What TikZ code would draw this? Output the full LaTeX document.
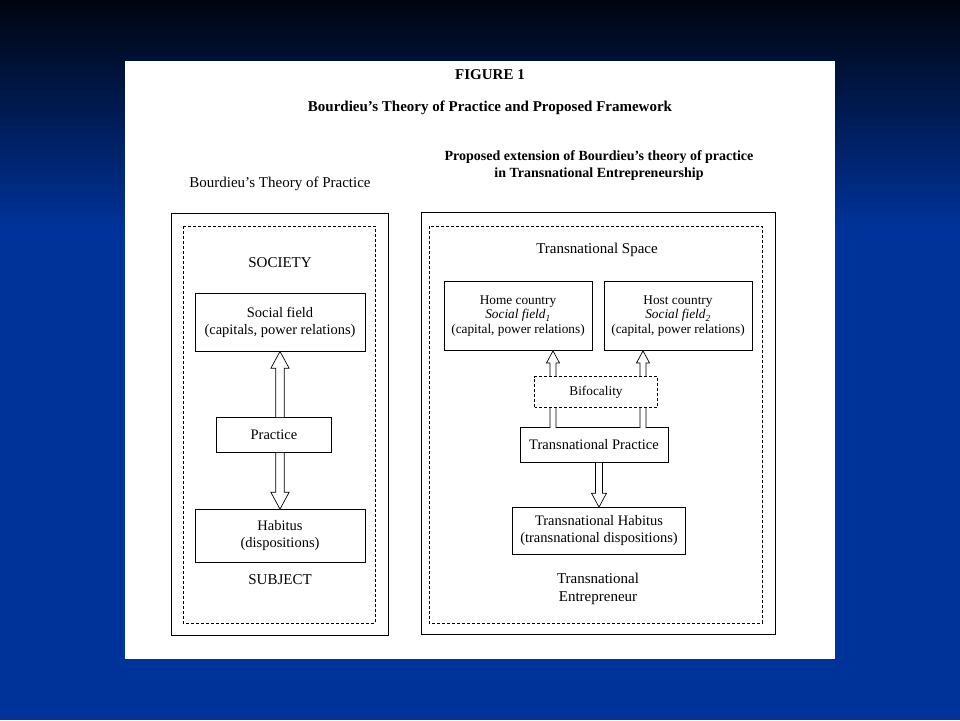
\documentclass[tikz,border=0pt]{standalone}
\usepackage{fontspec}
\setmainfont{Liberation Serif}
\usetikzlibrary{calc}
\definecolor{slideblue}{HTML}{00339A}
\definecolor{slidetop}{HTML}{00040F}
\tikzset{
    box/.style={draw, line width=0.8pt, fill=white, align=center, inner sep=2pt, font=\fontsize{14.5}{17}\selectfont},
    smallbox/.style={box, font=\fontsize{13.3}{14.5}\selectfont},
    dashbox/.style={draw, line width=0.9pt, dash pattern=on 3pt off 2pt},
    frame/.style={draw, line width=0.8pt},
    arrowline/.style={draw, line width=0.7pt, fill=white},
    plain/.style={font=\fontsize{15}{18}\selectfont, align=center},
  }
% hollow block arrow from #2 to #3, #1 = size
\newcommand\hollowarrow[3][1]{%
  \coordinate (hb) at ($(#3)!#1*12pt!(#2)$);
  \draw [arrowline] ($(#2)!#1*3pt!90:(#3)$) -- ($(hb)!#1*3pt!90:(#3)$) -- ($(hb)!#1*6.5pt!90:(#3)$)
        -- (#3) -- ($(hb)!#1*6.5pt!-90:(#3)$) -- ($(hb)!#1*3pt!-90:(#3)$) -- ($(#2)!#1*3pt!-90:(#3)$);
}

\begin{document}
\begin{tikzpicture}[x=1pt,y=-1pt]
          %fond
          \useasboundingbox (0,0) rectangle (960,720);
          \fill [slideblue] (0,0) rectangle (960,720);
          \shade [top color=slidetop, bottom color=slideblue] (0,0) rectangle (960,230);
          \fill [white] (125,61) rectangle (835,659);
          %titres
          \node [font=\bfseries\fontsize{15}{18}\selectfont] (fig) at (490,75) {FIGURE 1};
          \node [font=\bfseries\fontsize{15}{18}\selectfont] (title) at (490,108) {Bourdieu’s Theory of Practice and Proposed Framework};
          \node [plain] (lefttitle) at (280,184) {Bourdieu’s Theory of Practice};
          \node [plain, font=\bfseries\fontsize{14}{17}\selectfont] (righttitle) at (599,166) {Proposed extension of Bourdieu’s theory of practice\\in Transnational Entrepreneurship};
          %cadres
          \draw [frame] (171,213) rectangle (388,635);
          \draw [dashbox] (183,226) rectangle (375,623);
          \draw [frame] (421,212) rectangle (775,634);
          \draw [dashbox] (429,226) rectangle (762,623);
          %gauche
          \node [plain] (society) at (280,263) {SOCIETY};
          \node [box, minimum width=170pt, minimum height=58pt] (sf) at (280,322) {Social field\\(capitals, power relations)};
          \node [box, minimum width=115pt, minimum height=35pt] (pr) at (274,435) {Practice};
          \node [box, minimum width=170pt, minimum height=53pt] (hab) at (280,536) {Habitus\\(dispositions)};
          \node [plain] (subject) at (280,580) {SUBJECT};
          \hollowarrow[1.4]{sf.south |- pr.north}{sf.south}
          \hollowarrow[1.4]{hab.north |- pr.south}{hab.north}
          %droite
          \node [plain] (space) at (597,250) {Transnational Space};
          \node [smallbox, minimum width=148pt, minimum height=69pt] (home) at (518,316) {Home country\\\textit{Social field\textsubscript{1}}\\(capital, power relations)};
          \node [smallbox, minimum width=148pt, minimum height=69pt] (host) at (678,316) {Host country\\\textit{Social field\textsubscript{2}}\\(capital, power relations)};
          \node [box, minimum width=148pt, minimum height=35pt] (tp) at (594,445) {Transnational Practice};
          \node [box, minimum width=173pt, minimum height=47pt] (th) at (599,531) {Transnational Habitus\\(transnational dispositions)};
          \coordinate (a1) at (553,428);
          \coordinate (a2) at (643,428);
          \hollowarrow{a1}{a1 |- home.south}
          \hollowarrow{a2}{a2 |- host.south}
          \node [smallbox, draw=none, minimum width=122pt, minimum height=30pt] (bif) at (596,392) {Bifocality};
          \draw [dashbox] (bif.south west) rectangle (bif.north east);
          \hollowarrow[1.15]{tp.south -| th.north}{th.north}
          \node [plain] (entre) at (598,589) {Transnational\\Entrepreneur};
\end{tikzpicture}
\end{document}
